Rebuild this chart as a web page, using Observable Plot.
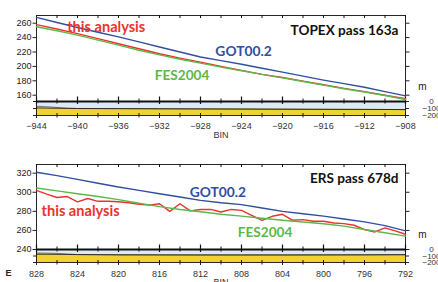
<!DOCTYPE html>
<html><head><meta charset="utf-8">
<script src="https://cdn.jsdelivr.net/npm/d3@7"></script>
<script src="https://cdn.jsdelivr.net/npm/@observablehq/plot@0.6"></script>
<style>
html,body{margin:0;padding:0;background:#fff;}
#wrap{position:relative;width:438px;height:282px;overflow:hidden;background:#fff;}
#wrap svg{position:absolute;left:0;}
</style></head><body><div id="wrap"></div>
<script>
// ---------- data: TOPEX pass 163a ----------
const binsA = [-944,-942,-940,-938,-936,-934,-932,-930,-928,-926,-924,-922,-920,-918,-916,-914,-912,-910,-908];
const gotA  = [268,261,254,247.5,241,234,227,220,213,208,203,197.5,192,186.5,181,176,171,165,159];
const thisA = [258,252,245.5,238.5,231.5,224.5,217.5,211.5,206,200,194.5,189,184.5,179.5,174.5,169.5,165,160,155];
const fesA  = [255,249.5,243.5,236.5,229.5,222.5,216,210,204.5,199,194,189,184,179,174,169,164.5,159.5,154];
const bathyBinsA = [-944,-943,-942,-941,-940,-936,-932,-928,-924,-920,-916,-912,-908];
const seabedA    = [-68,-75,-85,-96,-100,-102,-104,-106,-108,-110,-112,-113,-115];
const sedTopA    = [-92,-94,-96,-98,-100,-102,-104,-106,-108,-110,-112,-113,-115];
const yTicksA = [160,180,200,220,240,260];
const xTicksA = [-944,-942,-940,-938,-936,-934,-932,-930,-928,-926,-924,-922,-920,-918,-916,-914,-912,-910,-908];
const xLabelsA = [-944,-940,-936,-932,-928,-924,-920,-916,-912,-908];

// ---------- data: ERS pass 678d ----------
const binsB = [828,826,824,822,820,818,816,814,812,810,808,806,804,802,800,798,796,794,792];
const gotB  = [321,317.5,313.5,309.5,305.5,302,298.5,295,291.5,289,287,283.5,280,277.5,275,272,269,265,259.5];
const fesB  = [304.5,301.5,298.5,295.5,292.3,288.5,285,282,279.5,277,275,272.8,270.7,268.8,267,264.5,261,257.5,254];
const binsBfine = [828,827,826,825,824,823,822,821,820,819,818,817,816,815,814,813,812,811,810,809,808,807,806,805,804,803,802,801,800,799,798,797,796,795,794,793,792];
const thisB = [302,298,294.5,295.5,290,293.5,290.5,290.5,290,289,287.5,286.5,288,280,288,280.5,282,282,279.3,282,281,275.8,270.6,274.8,276.9,270.6,271.3,269.6,269.6,267.8,267.1,265.4,260.9,258.4,262.6,259.5,256];
const bathyBinsB = [828,827,826,825,824,822,820,816,812,808,804,800,796,792];
const seabedB    = [-55,-56,-60,-70,-78,-80,-82,-83,-84,-84,-84,-83,-82,-80];
const sedTopB    = [-72,-73,-74,-76,-78,-80,-82,-83,-84,-84,-84,-83,-82,-80];
const yTicksB = [240,260,280,300,320];
const xTicksB = [828,826,824,822,820,818,816,814,812,810,808,806,804,802,800,798,796,794,792];
const xLabelsB = [828,824,820,816,812,808,804,800,796,792];

const depthTicks = [0,-100,-200];
const names = ["this analysis","GOT00.2","FES2004"];
const titles = ["TOPEX pass 163a","ERS pass 678d"];

// ---------- styling ----------
const BLUE="#2f4fa0", RED="#e8342c", GREEN="#5cb848", YELLOW="#f1d230", WATER="#dde9f4", WEDGE="#c3cdd8";
const W=438, ML=36, MR=33;
const tickFont = "'Liberation Sans', Arial, sans-serif";
const labFont = "Lato, 'Open Sans', sans-serif";
const wrap = document.getElementById("wrap");

function place(svg, top){ svg.style.top = top+"px"; wrap.appendChild(svg); }

function mainPlot(o){
  const fh = o.height - o.mt - o.mb;
  const rows = (bins, vals) => bins.map((b,i)=>({bin:b, v:vals[i]}));
  const lab = {fontFamily:labFont, fontWeight:"bold"};
  return Plot.plot({
    width: W, height: o.height, marginLeft: ML, marginRight: MR, marginTop: o.mt, marginBottom: o.mb,
    style: {background:"transparent", fontFamily: tickFont, fontSize:"9px", color:"#222"},
    x: {domain: o.xDomain, axis: null},
    y: {domain: o.yDomain, axis: null},
    marks: [
      Plot.frame({stroke:"#111", strokeWidth:0.9}),
      Plot.axisY({ticks:o.yTicks, anchor:"left", tickSize:3.5, tickPadding:1.5, label:null, fontSize:9}),
      Plot.axisY({ticks:o.yTicks, anchor:"right", tickSize:3.5, tickFormat:()=>"", label:null}),
      Plot.tickX(o.xTicks, {x:d=>d, insetBottom: fh-3, stroke:"#111"}),
      Plot.tickX(o.xTicks, {x:d=>d, insetTop: fh-2.5, insetBottom:-2.5, stroke:"#111"}),
      Plot.tickX(o.xLabels, {x:d=>d, insetTop: fh-4.5, insetBottom:-3.5, stroke:"#111", strokeWidth:1.2}),
      Plot.line(rows(o.fineBins||o.bins, o.thisV), {x:"bin", y:"v", stroke:RED, strokeWidth:1.4}),
      Plot.line(rows(o.bins, o.fesV), {x:"bin", y:"v", stroke:GREEN, strokeWidth:1.4}),
      Plot.line(rows(o.bins, o.gotV), {x:"bin", y:"v", stroke:BLUE, strokeWidth:1.4}),
      Plot.text([o.title], {frameAnchor:"top-right", dx:-7, dy:o.titleDy, textAnchor:"end", ...lab, fontSize:13.6, fill:"#111"}),
      Plot.text([names[0]], {x:o.lab[0][0], y:o.lab[0][1], ...lab, fontSize:14.6, fill:RED}),
      Plot.text([names[1]], {x:o.lab[1][0], y:o.lab[1][1], ...lab, fontSize:13.8, fill:BLUE}),
      Plot.text([names[2]], {x:o.lab[2][0], y:o.lab[2][1], ...lab, fontSize:13.6, fill:GREEN}),
      Plot.text(["m"], {frameAnchor:"bottom-right", dx:21, dy:-12, fontSize:10, fill:"#222"})
    ]
  });
}

function bathyPlot(o){
  const fh = o.height - o.mt - o.mb;
  const rows = o.bins.map((b,i)=>({bin:b, s:o.seabed[i], t:o.sedTop[i]}));
  return Plot.plot({
    width: W, height: o.height, marginLeft: ML, marginRight: MR, marginTop: o.mt, marginBottom: o.mb,
    style: {background:"transparent", fontFamily: tickFont, fontSize:"9px", color:"#222"},
    x: {domain: o.xDomain, axis: null},
    y: {domain: [-200, 0], axis: null},
    marks: [
      Plot.areaY(rows, {x:"bin", y1:0, y2:"s", fill:WATER}),
      Plot.areaY(rows, {x:"bin", y1:"s", y2:"t", fill:WEDGE}),
      Plot.areaY(rows, {x:"bin", y1:"t", y2:-200, fill:YELLOW}),
      Plot.line(rows, {x:"bin", y:"s", stroke:"#666", strokeWidth:0.8}),
      Plot.line(rows, {x:"bin", y:"t", stroke:"#222", strokeWidth:0.9}),
      Plot.frame({stroke:"#111", strokeWidth:0.9}),
      Plot.ruleY([0], {stroke:"#111", strokeWidth:2}),
      Plot.tickX(o.xTicks, {x:d=>d, insetTop: fh-2, stroke:"#111"}),
      Plot.axisX({ticks:o.xTicks, anchor:"bottom", tickSize:2.5, tickFormat:()=>"", label:null}),
      Plot.axisX({ticks:o.xLabels, anchor:"bottom", tickSize:3, tickPadding:o.pad, label:null, fontSize:9, fill:"#333"}),
      Plot.axisY({ticks:depthTicks, anchor:"left", tickSize:3, tickFormat:()=>"", label:null}),
      Plot.axisY({ticks:depthTicks, anchor:"right", tickSize:3, tickPadding:23, textAnchor:"middle", label:null, fontSize:8, fill:"#333"}),
      Plot.text(["BIN"], {frameAnchor:"bottom", dy:22, fontSize:9, fill:"#333"}),
      ...(o.extra ? [Plot.text([o.extra], {frameAnchor:"bottom-left", dx:-31, dy:13, fontSize:9, fontWeight:"bold", fill:"#222"})] : [])
    ]
  });
}

// top panel
place(bathyPlot({height:44, mt:4, mb:26, bins:bathyBinsA, seabed:seabedA, sedTop:sedTopA, xDomain:[-944,-908], xTicks:xTicksA, xLabels:xLabelsA, pad:4}), 97);
place(mainPlot({height:104, mt:15, mb:3, xDomain:[-944,-908], yDomain:[151.25,270.7], yTicks:yTicksA, xTicks:xTicksA, xLabels:xLabelsA,
  bins:binsA, thisV:thisA, gotV:gotA, fesV:fesA, title:titles[0], titleDy:10,
  lab:[[-937.2,254],[-923.8,220.7],[-929.8,187.4]]}), 0);

// bottom panel
place(bathyPlot({height:50, mt:4, mb:33, bins:bathyBinsB, seabed:seabedB, sedTop:sedTopB, xDomain:[828,792], xTicks:xTicksB, xLabels:xLabelsB, pad:5, extra:"E"}), 245);
place(mainPlot({height:102, mt:14, mb:3, xDomain:[828,792], yDomain:[240,329.1], yTicks:yTicksB, xTicks:xTicksB, xLabels:xLabelsB,
  bins:binsB, fineBins:binsBfine, thisV:thisB, gotV:gotB, fesV:fesB, title:titles[1], titleDy:9,
  lab:[[823.7,280],[810.3,299.8],[805.7,258]]}), 150);
</script></body></html>
